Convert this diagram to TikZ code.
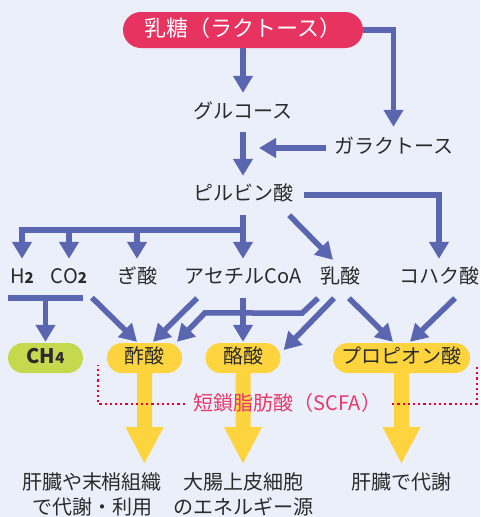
\documentclass[tikz,border=0pt]{standalone}
\usepackage{fontspec}
\setmainfont{Noto Sans CJK JP}
\usetikzlibrary{arrows.meta,calc}
\definecolor{bgc}{HTML}{EAEFF9}
\definecolor{arrc}{HTML}{5B66B0}
\definecolor{titc}{HTML}{E6335F}
\definecolor{yelc}{HTML}{FDD33E}
\definecolor{grnc}{HTML}{C5D94F}
\definecolor{pinkc}{HTML}{E6396B}
\definecolor{dotc}{HTML}{E60033}
\definecolor{txtc}{HTML}{2B2B2B}
\newcommand{\subn}[1]{{\fontsize{15pt}{15pt}\selectfont\bfseries #1}}
\begin{document}
\begin{tikzpicture}[x=1pt,y=-1pt,
  lbl/.style={inner sep=0pt, text height=15pt, text depth=4pt, font=\fontsize{20pt}{24pt}\selectfont, text=txtc},
  pill/.style={rounded corners=15pt, minimum height=30pt, inner sep=0pt, text height=15pt, text depth=4pt, font=\fontsize{20pt}{24pt}\selectfont, text=txtc},
  arr/.style={draw=arrc, line width=5.5pt, -{Triangle[width=19pt,length=17pt]}},
  bar/.style={draw=arrc, line width=5.5pt},
  outtxt/.style={inner sep=0pt, align=center, font=\fontsize{20pt}{25pt}\selectfont, text=txtc, anchor=base},
  dotline/.style={draw=dotc, line width=2.2pt, dash pattern=on 2.2pt off 3pt}
]
\fill[bgc] (0,0) rectangle (480,517);
\useasboundingbox (0,0) rectangle (480,517);

% nodes
\node[fill=titc, rounded corners=18pt, minimum width=240pt, minimum height=36pt, inner sep=0pt,
      text=white, font=\fontsize{22pt}{26pt}\selectfont, text height=16.5pt, text depth=4.5pt] (lac) at (243,30) {乳糖（ラクトース）};
\node[lbl] (glc) at (243,113) {グルコース};
\node[lbl] (gal) at (393.5,148) {ガラクトース};
\node[lbl] (pyr) at (243,195) {ピルビン酸};
\node[lbl] (h2) at (22,278) {H\subn{2}};
\node[lbl] (co2) at (69,278) {CO\subn{2}};
\node[lbl] (formic) at (137,278) {ぎ酸};
\node[lbl] (acoa) at (243,278) {アセチルCoA};
\node[lbl] (lact) at (340,278) {乳酸};
\node[lbl] (succ) at (439,278) {コハク酸};

\node[pill, fill=grnc, minimum width=75pt] (ch4) at (45.5,358) {\bfseries CH\subn{4}};
\node[pill, fill=yelc, minimum width=75pt] (ace) at (144.5,358) {酢酸};
\node[pill, fill=yelc, minimum width=75pt] (but) at (243,358) {酪酸};
\node[pill, fill=yelc, minimum width=137pt] (pro) at (401.5,358) {プロピオン酸};

% yellow big arrows
\foreach \n in {ace,but,pro}{
  \fill[yelc] ($(\n.south)+(-7.5,-1)$) -- ++(0,55) -- ++(-11.5,0) -- ++(19,36) -- ++(19,-36) -- ++(-11.5,0) -- ++(0,-55) -- cycle;
}

% SCFA bracket
\node[inner sep=0pt, font=\fontsize{20pt}{24pt}\selectfont, text=pinkc] (scfa) at (287.5,403) {短鎖脂肪酸（SCFA）};
\coordinate (dl) at (98,365);
\coordinate (dr) at (477,365);
\draw[dotline] ($(scfa.west)+(-9,1)$) -| (dl);
\draw[dotline] ($(scfa.east)+(11,1)$) -| (dr);

% outputs
\node[outtxt] (o1) at (92,514) {肝臓や末梢組織\\で代謝・利用};
\node[outtxt] (o2) at (243,514) {大腸上皮細胞\\のエネルギー源};
\node[outtxt] (o3) at (401,489) {肝臓で代謝};

% upper connectors
\draw[arr, shorten >=10.5pt] (lac.south) -- (glc.north);
\draw[arr, shorten >=11.5pt] (lac.east) -| (gal.north);
\draw[arr, shorten <=9.5pt, shorten >=9.5pt] (glc.south) -- (pyr.north);
\draw[arr, shorten <=7.5pt, shorten >=16pt] (gal.west) -- (gal.west -| glc.center);
\draw[arr, shorten <=11pt, shorten >=9.5pt] (pyr.east) -| (succ.north);
\draw[arr] ($(pyr.south east)+(-4,10.5)$) -- ($(lact.north)+(-7,-8.5)$);
\coordinate (br) at ($(pyr.south)+(0,25.5)$);
\draw[arr, shorten >=9.5pt] ($(pyr.south)+(0,10.5)$) -- (acoa.north);
\draw[arr, shorten >=9.5pt] (br) -| (h2.north);
\draw[arr, shorten >=9.5pt] (br -| co2.north) -- (co2.north);
\draw[arr, shorten >=9.5pt] (br -| formic.north) -- (formic.north);

% lower connectors
\coordinate (hb) at ($(h2.south)+(0,10.5)$);
\draw[bar] ($(hb)+(-14,0)$) -- ($(co2.south |- hb)+(14,0)$);
\draw[arr, shorten >=1pt] (ch4.north |- hb) -- (ch4.north);
\draw[arr] ($(co2.south)+(23,10)$) -- ($(ace.north)+(-7.5,-1)$);
\draw[arr] ($(acoa.south)+(-46,10.5)$) -- ($(ace.north)+(8.5,-1)$);
\draw[arr] ($(lact.south)+(-22,10.5)$) -- ++(-16,15) -- ($(ace.north)+(60.5,-30)$) -- ($(ace.north)+(32.5,-1)$);
\draw[arr, shorten <=10.5pt, shorten >=1pt] (acoa.south) -- (but.north);
\draw[arr] ($(lact.south)+(-6,10.5)$) -- ($(but.east)+(3,-8)$);
\draw[arr] ($(lact.south)+(9,10.5)$) -- ($(pro.north)+(-8.5,-1)$);
\draw[arr] ($(succ.south)+(16,10.5)$) -- ($(pro.north)+(8.5,-1)$);
\end{tikzpicture}
\end{document}
